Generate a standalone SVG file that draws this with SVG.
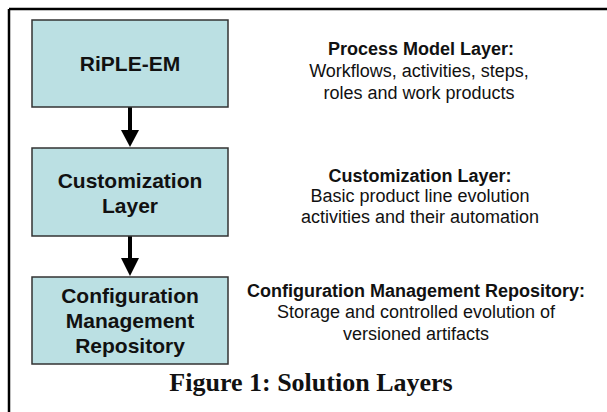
<svg xmlns="http://www.w3.org/2000/svg" width="607" height="412" viewBox="0 0 607 412">
<defs>
<style>
.box{fill:#bbe0e3;stroke:#333;stroke-width:1.5}
.bt{font-family:"Liberation Sans",Arial,sans-serif;font-weight:bold;font-size:21px;fill:#111;text-anchor:middle}
.rh{font-family:"Liberation Sans",Arial,sans-serif;font-weight:bold;font-size:18px;fill:#111;text-anchor:middle}
.rt{font-family:"Liberation Sans",Arial,sans-serif;font-size:18px;fill:#111;text-anchor:middle}
.cap{font-family:"Liberation Serif","Times New Roman",serif;font-weight:bold;font-size:26px;fill:#111;text-anchor:middle}
.conn{stroke:#000;stroke-width:4;fill:none}
.head{fill:#000}
</style>
</defs>
<rect width="607" height="412" fill="#fff"/>
<g id="frame">
<line x1="9" y1="9" x2="607" y2="9" stroke="#000" stroke-width="2.5"/>
<line x1="9" y1="9" x2="9" y2="412" stroke="#000" stroke-width="2.5"/>
</g>
<g id="connectors">
<line class="conn" x1="130" y1="107" x2="130" y2="131"/>
<polygon class="head" points="121,130 139,130 130,147"/>
<line class="conn" x1="130" y1="236" x2="130" y2="259"/>
<polygon class="head" points="121,258 139,258 130,276"/>
</g>
<g id="node-riple">
<rect class="box" x="32" y="20" width="196" height="87"/>
<text class="bt" x="130" y="71">RiPLE-EM</text>
</g>
<g id="node-customization">
<rect class="box" x="32" y="148" width="196" height="88"/>
<text class="bt" x="130" y="188">Customization</text>
<text class="bt" x="130" y="213">Layer</text>
</g>
<g id="node-cmr">
<rect class="box" x="32" y="277" width="196" height="87"/>
<text class="bt" x="130" y="303">Configuration</text>
<text class="bt" x="130" y="328">Management</text>
<text class="bt" x="130" y="353">Repository</text>
</g>
<g id="desc-process">
<text class="rh" x="421" y="55">Process Model Layer:</text>
<text class="rt" x="419" y="77">Workflows, activities, steps,</text>
<text class="rt" x="419" y="99">roles and work products</text>
</g>
<g id="desc-customization">
<text class="rh" x="420" y="182">Customization Layer:</text>
<text class="rt" x="420" y="202">Basic product line evolution</text>
<text class="rt" x="420" y="223">activities and their automation</text>
</g>
<g id="desc-cmr">
<text class="rh" x="416" y="297">Configuration Management Repository:</text>
<text class="rt" x="416" y="318">Storage and controlled evolution of</text>
<text class="rt" x="416" y="340">versioned artifacts</text>
</g>
<g id="caption">
<text class="cap" x="311" y="391">Figure 1: Solution Layers</text>
</g>
</svg>
